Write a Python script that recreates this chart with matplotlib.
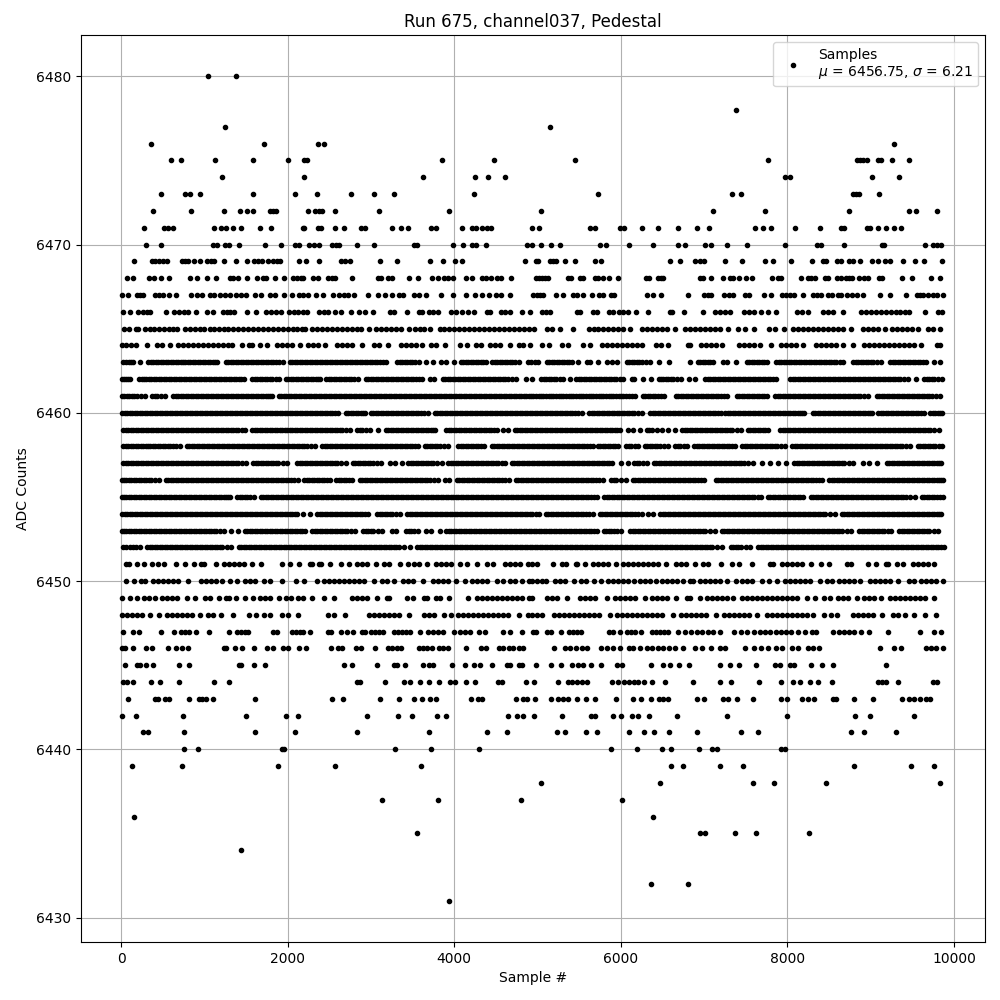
import matplotlib
matplotlib.use('Agg')
import matplotlib.pyplot as plt

# samples, one list per ADC level
s6480 = [1044, 1380]
s6478 = [7388]
s6477 = [1248, 5144]
s6476 = [360, 1716, 2360, 2436, 9284]
s6475 = [600, 720, 1128, 1584, 2004, 2196, 2232, 3852, 4476, 5444, 7772, 8840, 8876, 8912, 8960, 9092, 9128, 9260, 9464]
s6474 = [1212, 2196, 3624, 4252, 4404, 4608, 7976, 8036, 9020, 9344]
s6473 = [480, 768, 828, 948, 1584, 2088, 2352, 2760, 3036, 3276, 4236, 5720, 7340, 7448, 8792, 8828, 8864, 9104]
s6472 = [384, 840, 1236, 1428, 1512, 1584, 1788, 1824, 1864, 2244, 2328, 2376, 2412, 2568, 3096, 3936, 5036, 7112, 7736, 8744, 9464, 9548, 9800]
s6471 = [276, 512, 568, 624, 1116, 1204, 1260, 1344, 1444, 1668, 1800, 2184, 2196, 2364, 2404, 2568, 2676, 2880, 2928, 3252, 3360, 3444, 3720, 3780, 4092, 4212, 4264, 4332, 4392, 4444,
         4928, 5012, 5624, 5684, 5984, 6032, 6248, 6440, 6692, 6920, 7064, 7616, 7712, 7808, 8096, 8396, 8648, 8684, 8960, 8996, 9092, 9188, 9284, 9368]
s6470 = [300, 480, 1104, 1152, 1248, 1296, 1416, 1728, 1920, 2088, 2136, 2256, 2316, 2376, 2532, 2580, 2616, 2832, 3036, 3516, 3548, 3984, 4104, 4212, 4264, 4380, 4872,
         4928, 5036, 5156, 5264, 5752, 5816, 6092, 6380, 6692, 6776, 7016, 7088, 7280, 7520, 7976, 8360, 8408, 8684, 9140, 9164, 9656, 9752, 9800, 9848]
s6469 = [156, 372, 408, 456, 504, 556, 732, 768, 804, 876, 948, 1032, 1080, 1116, 1236, 1380, 1512, 1596, 1644, 1692, 1764, 1824, 1872, 1908, 2136, 2220, 2376, 2640, 2688, 2748, 3108, 3312, 3708, 3864, 4008, 4092, 4848,
         4976, 5000, 5144, 5180, 5216, 5324, 5444, 5692, 5756, 6596, 6716, 6896, 6956, 7004, 7256, 7460, 7736, 7832, 8048, 8300, 8432, 8468, 8600, 8648, 8744, 8792, 8876, 9020, 9092, 9176, 9236, 9392, 9536, 9644, 9860]
s6468 = [72, 144, 336, 396, 480, 572, 828, 912, 1032, 1140, 1308, 1344, 1404, 1512, 1632, 1704, 1740, 1848, 1956, 2064, 2112, 2160, 2184, 2304, 2364, 2484, 2532, 2568, 2772, 3084, 3120, 3204, 3252, 3456, 3564, 3732, 3804, 3876, 3924, 3984, 4144, 4212, 4332, 4380, 4440, 4512, 4560, 4680,
         4976, 5012, 5048, 5084, 5120, 5360, 5396, 5504, 5540, 5684, 5720, 5780, 5852, 5960, 6296, 6332, 6440, 6476, 6512, 6956, 6992, 7088, 7232, 7316, 7352, 7424, 7508, 7580, 7820, 7892, 7928, 8168, 8252, 8288, 8336, 8456, 8492, 8600, 8648, 8708, 8744, 8780, 8864, 8924, 8972, 9104, 9140, 9380, 9500, 9728, 9836]
s6467 = [16, 84, 192, 228, 264, 408, 456, 504, 576, 660, 840, 912, 972, 1068, 1116, 1188, 1248, 1308, 1380, 1440, 1504, 1608, 1684, 1788, 1848, 1956, 2052, 2136, 2184, 2244, 2344, 2424, 2544, 2616, 2676, 2724, 2796, 2964, 3084, 3164, 3252, 3336, 3384, 3516, 3576, 3660, 3840, 3984, 4144, 4252, 4332, 4416, 4500, 4560, 4664,
         4940, 4988, 5024, 5060, 5216, 5300, 5420, 5468, 5540, 5648, 5732, 5780, 5876, 5912, 6308, 6380, 6476, 6812, 7004, 7052, 7088, 7244, 7304, 7352, 7496, 7544, 7724, 7808, 7940, 7988, 8036, 8084, 8192, 8312, 8360, 8408, 8492, 8540, 8612, 8648, 8720, 8780, 8840, 8912, 9116, 9236, 9428, 9560, 9596, 9632, 9692, 9752, 9800, 9872]
s6466 = [24, 112, 204, 262, 310, 344, 536, 640, 700, 760, 804, 904, 1036, 1104, 1220, 1268, 1310, 1352, 1516, 1620, 1736, 1800, 1860, 1924, 2016, 2072, 2130, 2190, 2232, 2376, 2440, 2480, 2568, 2640, 2760, 2852, 2924, 3024, 3224, 3272, 3432, 3576, 3612, 3696, 3750, 3800, 3956, 4020, 4090, 4160, 4232, 4396, 4424, 4556, 4610, 4672, 4816, 4904,
         5052, 5100, 5148, 5472, 5508, 5660, 5716, 5852, 5910, 5972, 6030, 6088, 6180, 6320, 6592, 6616, 6760, 6992, 7132, 7190, 7256, 7316, 7484, 7540, 7596, 7688, 7768, 7868, 8112, 8180, 8248, 8432, 8490, 8548, 8668, 8884, 8944, 9004, 9060, 9122, 9180, 9240, 9300, 9356, 9412, 9460, 9652, 9812, 9852]
s6465 = [36, 92, 176, 200, 288, 344, 402, 460, 520, 580, 630, 672, 768, 826, 888, 944, 1002, 1064, 1122, 1180, 1236, 1280, 1344, 1408, 1466, 1526, 1588, 1646, 1706, 1764, 1822, 1882, 1942, 2000, 2060, 2118, 2170, 2212, 2296, 2356, 2416, 2474, 2532, 2594, 2652, 2710, 2770, 2830, 2886, 2972, 3064, 3124, 3186, 3246, 3304, 3364, 3452, 3528, 3590, 3632, 3712, 3824, 3882, 3942, 4002, 4060, 4122, 4180, 4240, 4298, 4358, 4418, 4476, 4536, 4596, 4654, 4714, 4772, 4832, 4892, 4956,
         5112, 5170, 5268, 5420, 5612, 5672, 5730, 5790, 5850, 5910, 5970, 6030, 6108, 6252, 6310, 6370, 6430, 6490, 6550, 6648, 6772, 6830, 6890, 6950, 7010, 7070, 7130, 7190, 7288, 7412, 7488, 7604, 7780, 7848, 7960, 8072, 8132, 8190, 8250, 8310, 8370, 8430, 8490, 8550, 8610, 8670, 8768, 8904, 8964, 9024, 9084, 9168, 9260, 9320, 9380, 9440, 9500, 9568, 9692, 9752, 9828]
s6464 = [14, 64, 124, 184, 312, 436, 492, 592, 688, 746, 806, 866, 924, 984, 1044, 1102, 1162, 1222, 1280, 1332, 1456, 1536, 1572, 1664, 1752, 1876, 1934, 1994, 2052, 2152, 2248, 2308, 2368, 2452, 2596, 2656, 2716, 2776, 2892, 3036, 3100, 3200, 3356, 3416, 3476, 3536, 3612, 3716, 3776, 3892, 4064, 4152, 4264, 4320, 4424, 4484, 4544, 4664, 4776, 4824, 4904,
         5052, 5140, 5292, 5368, 5540, 5628, 5772, 5832, 5892, 5952, 6012, 6072, 6132, 6192, 6248, 6420, 6480, 6568, 6804, 6828, 6960, 7020, 7080, 7140, 7216, 7420, 7480, 7540, 7600, 7668, 7800, 7924, 7984, 8044, 8104, 8188, 8340, 8400, 8460, 8520, 8580, 8668, 8788, 8924, 8984, 9044, 9104, 9164, 9224, 9284, 9344, 9404, 9464, 9524, 9608, 9792, 9828]
s6463 = [28, 90, 144, 228, 328, 388, 448, 508, 566, 626, 686, 746, 804, 864, 924, 984, 1044, 1102, 1152, 1256, 1316, 1376, 1436, 1496, 1556, 1616, 1676, 1736, 1796, 1856, 1944, 2028, 2088, 2148, 2208, 2268, 2328, 2388, 2448, 2508, 2568, 2628, 2688, 2748, 2808, 2868, 2928, 2988, 3048, 3108, 3184, 3316, 3376, 3436, 3496, 3572, 3664, 3744, 3844, 3904, 3992, 4076, 4136, 4196, 4256, 4316, 4384, 4456, 4516, 4576, 4636, 4696, 4772, 4880,
         4920, 4968, 5008, 5112, 5172, 5232, 5292, 5352, 5408, 5480, 5592, 5628, 5728, 5832, 5892, 5948, 6072, 6132, 6192, 6252, 6348, 6460, 6580, 6836, 6924, 6984, 7044, 7108, 7232, 7280, 7384, 7512, 7572, 7632, 7692, 7756, 7864, 7924, 7984, 8044, 8104, 8164, 8224, 8284, 8344, 8404, 8464, 8524, 8584, 8668, 8792, 8852, 8912, 8972, 9032, 9128, 9232, 9292, 9352, 9412, 9472, 9532, 9592, 9668, 9764, 9828,
         60, 118, 358, 418, 478, 536, 596, 656, 716, 774, 834, 894, 954, 1014, 1072, 1128, 1286, 1346, 1406, 1466, 1526, 1586, 1646, 1706, 1766, 1826, 1900, 2058, 2118, 2178, 2238, 2298, 2358, 2418, 2478, 2538, 2598, 2658, 2718, 2778, 2838, 2898, 2958, 3018, 3078, 3146, 3346, 3406, 3466, 3534, 4106, 4166, 4226, 4286, 4350, 4486, 4546, 4606, 4666, 4734, 5142, 5202, 5262, 5322, 5380, 6102, 6162, 6222, 6300, 6954, 7014, 7076, 7542, 7602, 7662, 7724, 7894, 7954, 8014, 8074, 8134, 8194, 8254, 8314, 8374, 8434, 8494, 8554, 8626, 8822, 8882, 8942, 9002, 9080, 9262, 9322, 9382, 9442, 9502, 9562, 9630]
s6462 = [14, 60, 112, 216, 276, 336, 396, 456, 516, 576, 636, 696, 756, 816, 876, 936, 996, 1056, 1116, 1176, 1236, 1296, 1356, 1416, 1472, 1576, 1636, 1696, 1756, 1816, 1892, 1976, 2036, 2096, 2156, 2216, 2276, 2336, 2392, 2464, 2524, 2584, 2644, 2704, 2764, 2840, 2936, 2996, 3056, 3116, 3176, 3236, 3296, 3356, 3416, 3476, 3536, 3612, 3708, 3760, 3864, 3924, 3984, 4044, 4104, 4164, 4224, 4284, 4344, 4404, 4464, 4524, 4584, 4644, 4744, 4864,
         4928, 5044, 5104, 5164, 5224, 5308, 5384, 5464, 5524, 5584, 5644, 5704, 5764, 5824, 5884, 5944, 6028, 6132, 6156, 6264, 6356, 6452, 6512, 6572, 6632, 6728, 6820, 6888, 7012, 7072, 7132, 7192, 7252, 7312, 7372, 7432, 7492, 7552, 7612, 7672, 7732, 7792, 7860, 8032, 8092, 8152, 8212, 8272, 8332, 8392, 8452, 8512, 8572, 8632, 8692, 8752, 8812, 8872, 8932, 8992, 9052, 9112, 9172, 9232, 9292, 9352, 9448, 9540, 9644, 9704, 9764, 9860,
         36, 86, 246, 306, 366, 426, 486, 546, 606, 666, 726, 786, 846, 906, 966, 1026, 1086, 1146, 1206, 1266, 1326, 1386, 1444, 1606, 1666, 1726, 1786, 1856, 2006, 2066, 2126, 2186, 2246, 2306, 2364, 2494, 2554, 2614, 2674, 2734, 2802, 2966, 3026, 3086, 3146, 3206, 3266, 3326, 3386, 3446, 3506, 3574, 3894, 3954, 4014, 4074, 4134, 4194, 4254, 4314, 4374, 4434, 4494, 4554, 4614, 4694, 5074, 5134, 5194, 5266, 5494, 5554, 5614, 5674, 5734, 5794, 5854, 5914, 5986, 6482, 6542, 6602, 6680, 7042, 7102, 7162, 7222, 7282, 7342, 7402, 7462, 7522, 7582, 7642, 7702, 7762, 7826, 8062, 8122, 8182, 8242, 8302, 8362, 8422, 8482, 8542, 8602, 8662, 8722, 8782, 8842, 8902, 8962, 9022, 9082, 9142, 9202, 9262, 9322, 9400, 9674, 9734, 9812]
s6461 = [14, 68, 128, 188, 284, 376, 436, 532, 628, 688, 748, 808, 868, 928, 988, 1048, 1108, 1168, 1228, 1288, 1348, 1408, 1468, 1528, 1588, 1648, 1708, 1768, 1812, 1896, 1955, 2016, 2074, 2136, 2194, 2256, 2314, 2376, 2434, 2496, 2554, 2616, 2674, 2736, 2794, 2856, 2914, 2976, 3034, 3096, 3154, 3216, 3274, 3336, 3394, 3456, 3514, 3576, 3634, 3696, 3754, 3816, 3874, 3936, 3994, 4056, 4114, 4176, 4234, 4296, 4354, 4416, 4474, 4536, 4594, 4656, 4714, 4776, 4834, 4896,
         4950, 5012, 5070, 5132, 5190, 5252, 5310, 5372, 5430, 5492, 5550, 5612, 5670, 5732, 5790, 5852, 5910, 5972, 6030, 6092, 6168, 6264, 6324, 6384, 6444, 6520, 6660, 6720, 6780, 6840, 6900, 6960, 7020, 7080, 7140, 7200, 7280, 7392, 7452, 7512, 7572, 7632, 7692, 7756, 7852, 7912, 7972, 8032, 8092, 8152, 8212, 8272, 8332, 8392, 8452, 8512, 8572, 8632, 8692, 8752, 8812, 8872, 8968, 9072, 9132, 9192, 9252, 9312, 9372, 9432, 9492, 9552, 9612, 9672, 9732, 9828,
         40, 98, 158, 236, 406, 484, 658, 718, 778, 838, 898, 958, 1018, 1078, 1138, 1198, 1258, 1318, 1378, 1438, 1498, 1558, 1618, 1678, 1738, 1790, 1926, 1985, 2045, 2105, 2165, 2225, 2285, 2345, 2405, 2465, 2525, 2585, 2645, 2705, 2765, 2825, 2885, 2945, 3005, 3065, 3125, 3185, 3245, 3305, 3365, 3425, 3485, 3545, 3605, 3665, 3725, 3785, 3845, 3905, 3965, 4025, 4085, 4145, 4205, 4265, 4325, 4385, 4445, 4505, 4565, 4625, 4685, 4745, 4805, 4865, 4925, 4981, 5041, 5101, 5161, 5221, 5281, 5341, 5401, 5461, 5521, 5581, 5641, 5701, 5761, 5821, 5881, 5941, 6001, 6061, 6130, 6294, 6354, 6414, 6482, 6690, 6750, 6810, 6870, 6930, 6990, 7050, 7110, 7170, 7240, 7422, 7482, 7542, 7602, 7662, 7724, 7882, 7942, 8002, 8062, 8122, 8182, 8242, 8302, 8362, 8422, 8482, 8542, 8602, 8662, 8722, 8782, 8842, 8920, 9102, 9162, 9222, 9282, 9342, 9402, 9462, 9522, 9582, 9642, 9702, 9780]
s6460 = [16, 76, 136, 196, 256, 316, 376, 436, 496, 556, 616, 676, 736, 796, 856, 916, 976, 1036, 1096, 1156, 1216, 1276, 1336, 1396, 1456, 1516, 1576, 1636, 1696, 1756, 1816, 1876, 1936, 1996, 2056, 2116, 2176, 2236, 2296, 2356, 2416, 2476, 2536, 2600, 2696, 2756, 2816, 2876, 2932, 3000, 3060, 3120, 3180, 3240, 3300, 3360, 3420, 3480, 3540, 3600, 3680, 3764, 3824, 3884, 3944, 4004, 4064, 4124, 4184, 4244, 4304, 4364, 4424, 4484, 4544, 4604, 4664, 4724, 4784, 4844, 4904,
         4964, 5024, 5084, 5144, 5204, 5264, 5324, 5384, 5444, 5528, 5620, 5680, 5740, 5800, 5860, 5920, 5980, 6040, 6100, 6160, 6248, 6352, 6412, 6472, 6532, 6592, 6652, 6712, 6772, 6832, 6892, 6952, 7012, 7072, 7132, 7200, 7252, 7312, 7372, 7432, 7492, 7552, 7612, 7672, 7732, 7792, 7852, 7912, 7972, 8032, 8092, 8152, 8200, 8304, 8364, 8424, 8484, 8544, 8604, 8664, 8724, 8784, 8844, 8904, 8964, 9010, 9090, 9150, 9210, 9270, 9330, 9390, 9450, 9510, 9570, 9636, 9712, 9772, 9860,
         46, 106, 166, 226, 286, 346, 406, 466, 526, 586, 646, 706, 766, 826, 886, 946, 1006, 1066, 1126, 1186, 1246, 1306, 1366, 1426, 1486, 1546, 1606, 1666, 1726, 1786, 1846, 1906, 1966, 2026, 2086, 2146, 2206, 2266, 2326, 2386, 2446, 2506, 2568, 2726, 2786, 2846, 2904, 3030, 3090, 3150, 3210, 3270, 3330, 3390, 3450, 3510, 3570, 3640, 3794, 3854, 3914, 3974, 4034, 4094, 4154, 4214, 4274, 4334, 4394, 4454, 4514, 4574, 4634, 4694, 4754, 4814, 4874, 4934, 4994, 5054, 5114, 5174, 5234, 5294, 5354, 5414, 5486, 5650, 5710, 5770, 5830, 5890, 5950, 6010, 6070, 6130, 6204, 6382, 6442, 6502, 6562, 6622, 6682, 6742, 6802, 6862, 6922, 6982, 7042, 7102, 7166, 7282, 7342, 7402, 7462, 7522, 7582, 7642, 7702, 7762, 7822, 7882, 7942, 8002, 8062, 8122, 8176, 8334, 8394, 8454, 8514, 8574, 8634, 8694, 8754, 8814, 8874, 8934, 8988, 9120, 9180, 9240, 9300, 9360, 9420, 9480, 9540, 9604, 9742, 9802, 9832]
s6459 = [28, 88, 148, 208, 268, 328, 388, 448, 508, 568, 628, 688, 748, 808, 868, 928, 988, 1048, 1108, 1168, 1228, 1288, 1348, 1408, 1492, 1576, 1636, 1696, 1756, 1816, 1876, 1936, 1996, 2056, 2116, 2176, 2236, 2296, 2356, 2416, 2476, 2536, 2596, 2656, 2752, 2836, 2896, 2992, 3084, 3176, 3236, 3296, 3356, 3416, 3476, 3536, 3596, 3656, 3716, 3772, 3904, 3964, 4024, 4084, 4144, 4204, 4264, 4324, 4384, 4444, 4512, 4588, 4640, 4724, 4784, 4844, 4904,
         4964, 5024, 5084, 5144, 5204, 5264, 5324, 5384, 5444, 5504, 5564, 5624, 5684, 5744, 5804, 5864, 5924, 5988, 6084, 6144, 6228, 6312, 6372, 6428, 6500, 6572, 6648, 6740, 6800, 6860, 6920, 6980, 7040, 7100, 7160, 7220, 7280, 7340, 7448, 7524, 7584, 7644, 7704, 7768, 7912, 7972, 8032, 8092, 8152, 8212, 8272, 8332, 8392, 8452, 8512, 8572, 8632, 8692, 8752, 8812, 8872, 8932, 8992, 9052, 9112, 9172, 9232, 9292, 9352, 9412, 9472, 9532, 9592, 9652, 9712, 9816,
         58, 118, 178, 238, 298, 358, 418, 478, 538, 598, 658, 718, 778, 838, 898, 958, 1018, 1078, 1138, 1198, 1258, 1318, 1378, 1450, 1606, 1666, 1726, 1786, 1846, 1906, 1966, 2026, 2086, 2146, 2206, 2266, 2326, 2386, 2446, 2506, 2566, 2626, 2704, 2866, 2944, 3206, 3266, 3326, 3386, 3446, 3506, 3566, 3626, 3686, 3744, 3934, 3994, 4054, 4114, 4174, 4234, 4294, 4354, 4414, 4478, 4754, 4814, 4874, 4934, 4994, 5054, 5114, 5174, 5234, 5294, 5354, 5414, 5474, 5534, 5594, 5654, 5714, 5774, 5834, 5894, 5956, 6342, 6770, 6830, 6890, 6950, 7010, 7070, 7130, 7190, 7250, 7310, 7394, 7554, 7614, 7674, 7736, 7942, 8002, 8062, 8122, 8182, 8242, 8302, 8362, 8422, 8482, 8542, 8602, 8662, 8722, 8782, 8842, 8902, 8962, 9022, 9082, 9142, 9202, 9262, 9322, 9382, 9442, 9502, 9562, 9622, 9682, 9764]
s6458 = [24, 84, 144, 204, 264, 324, 384, 444, 504, 564, 624, 704, 788, 848, 908, 968, 1028, 1088, 1148, 1208, 1268, 1328, 1388, 1448, 1508, 1568, 1628, 1688, 1748, 1808, 1868, 1928, 1988, 2048, 2108, 2168, 2228, 2332, 2416, 2476, 2536, 2596, 2656, 2716, 2776, 2836, 2896, 2956, 3016, 3076, 3136, 3196, 3256, 3316, 3376, 3436, 3496, 3560, 3644, 3704, 3764, 3824, 3920, 4048, 4108, 4168, 4228, 4288, 4360, 4448, 4508, 4568, 4628, 4688, 4748, 4808, 4868,
         4928, 4988, 5048, 5108, 5168, 5228, 5288, 5348, 5408, 5468, 5528, 5588, 5660, 5720, 5780, 5840, 5900, 5968, 6064, 6124, 6208, 6284, 6344, 6404, 6464, 6568, 6652, 6712, 6796, 6880, 6940, 7000, 7060, 7120, 7180, 7240, 7300, 7376, 7460, 7520, 7580, 7640, 7700, 7760, 7820, 7880, 7968, 8060, 8120, 8180, 8240, 8300, 8360, 8420, 8480, 8540, 8600, 8660, 8720, 8780, 8840, 8900, 8960, 9020, 9080, 9140, 9200, 9260, 9320, 9380, 9476, 9564, 9624, 9684, 9744, 9860,
         54, 114, 174, 234, 294, 354, 414, 474, 534, 594, 664, 818, 878, 938, 998, 1058, 1118, 1178, 1238, 1298, 1358, 1418, 1478, 1538, 1598, 1658, 1718, 1778, 1838, 1898, 1958, 2018, 2078, 2138, 2198, 2280, 2446, 2506, 2566, 2626, 2686, 2746, 2806, 2866, 2926, 2986, 3046, 3106, 3166, 3226, 3286, 3346, 3406, 3466, 3528, 3674, 3734, 3794, 3872, 4078, 4138, 4198, 4258, 4324, 4478, 4538, 4598, 4658, 4718, 4778, 4838, 4898, 4958, 5018, 5078, 5138, 5198, 5258, 5318, 5378, 5438, 5498, 5558, 5624, 5750, 5810, 5870, 5934, 6094, 6166, 6314, 6374, 6434, 6516, 6682, 6754, 6910, 6970, 7030, 7090, 7150, 7210, 7270, 7338, 7490, 7550, 7610, 7670, 7730, 7790, 7850, 7924, 8090, 8150, 8210, 8270, 8330, 8390, 8450, 8510, 8570, 8630, 8690, 8750, 8810, 8870, 8930, 8990, 9050, 9110, 9170, 9230, 9290, 9350, 9428, 9594, 9654, 9714, 9774, 9820]
s6457 = [28, 88, 148, 208, 268, 328, 388, 448, 508, 568, 628, 688, 748, 808, 868, 928, 988, 1048, 1108, 1168, 1228, 1288, 1348, 1408, 1500, 1588, 1648, 1708, 1768, 1828, 1888, 1992, 2116, 2176, 2236, 2296, 2356, 2416, 2476, 2536, 2596, 2700, 2784, 2844, 2904, 2964, 3024, 3124, 3224, 3284, 3372, 3448, 3508, 3568, 3628, 3688, 3748, 3848, 3928, 3988, 4048, 4108, 4168, 4228, 4288, 4348, 4408, 4468, 4528, 4612, 4688, 4748, 4808, 4868,
         4928, 4988, 5048, 5108, 5168, 5228, 5288, 5348, 5408, 5468, 5528, 5588, 5648, 5708, 5768, 5828, 5888, 6000, 6080, 6160, 6220, 6308, 6396, 6456, 6516, 6576, 6636, 6696, 6756, 6816, 6876, 6936, 6996, 7056, 7116, 7176, 7236, 7296, 7356, 7416, 7476, 7588, 7692, 7796, 7884, 7988, 8084, 8144, 8204, 8264, 8324, 8384, 8444, 8504, 8564, 8624, 8684, 8788, 8904, 8976, 9072, 9192, 9252, 9312, 9372, 9432, 9492, 9552, 9612, 9672, 9732, 9792, 9848,
         58, 118, 178, 238, 298, 358, 418, 478, 538, 598, 658, 718, 778, 838, 898, 958, 1018, 1078, 1138, 1198, 1258, 1318, 1378, 1454, 1618, 1678, 1738, 1798, 1858, 1940, 2146, 2206, 2266, 2326, 2386, 2446, 2506, 2566, 2646, 2814, 2874, 2934, 2994, 3076, 3478, 3538, 3598, 3658, 3718, 3796, 3958, 4018, 4078, 4138, 4198, 4258, 4318, 4378, 4438, 4498, 4570, 4718, 4778, 4838, 4898, 4958, 5018, 5078, 5138, 5198, 5258, 5318, 5378, 5438, 5498, 5558, 5618, 5678, 5738, 5798, 5858, 6190, 6264, 6426, 6486, 6546, 6606, 6666, 6726, 6786, 6846, 6906, 6966, 7026, 7086, 7146, 7206, 7266, 7326, 7386, 7446, 7530, 8114, 8174, 8234, 8294, 8354, 8414, 8474, 8534, 8594, 8654, 8736, 9222, 9282, 9342, 9402, 9462, 9522, 9582, 9642, 9702, 9762, 9820]
s6456 = [14, 64, 124, 184, 244, 304, 364, 452, 536, 596, 656, 716, 776, 836, 896, 956, 1016, 1076, 1136, 1196, 1256, 1316, 1376, 1436, 1496, 1556, 1616, 1676, 1736, 1796, 1856, 1916, 1976, 2036, 2124, 2200, 2260, 2320, 2380, 2440, 2504, 2584, 2644, 2704, 2768, 2864, 2924, 2984, 3044, 3104, 3164, 3224, 3284, 3344, 3404, 3464, 3524, 3584, 3644, 3704, 3808, 3888, 3940, 4028, 4088, 4148, 4208, 4268, 4328, 4388, 4448, 4508, 4568, 4660, 4736, 4796, 4856,
         4916, 4976, 5036, 5096, 5156, 5216, 5276, 5336, 5396, 5456, 5516, 5576, 5636, 5696, 5788, 5884, 5944, 6056, 6144, 6204, 6264, 6324, 6384, 6444, 6504, 6564, 6624, 6684, 6744, 6804, 6864, 6924, 7000, 7140, 7200, 7260, 7320, 7380, 7440, 7500, 7560, 7620, 7680, 7740, 7800, 7860, 7920, 7980, 8040, 8100, 8160, 8220, 8280, 8340, 8420, 8500, 8560, 8620, 8680, 8740, 8800, 8860, 8920, 8980, 9040, 9100, 9160, 9220, 9280, 9340, 9400, 9460, 9520, 9580, 9640, 9700, 9760, 9820, 9868,
         34, 94, 154, 214, 274, 334, 408, 566, 626, 686, 746, 806, 866, 926, 986, 1046, 1106, 1166, 1226, 1286, 1346, 1406, 1466, 1526, 1586, 1646, 1706, 1766, 1826, 1886, 1946, 2006, 2080, 2230, 2290, 2350, 2410, 2472, 2614, 2674, 2736, 2894, 2954, 3014, 3074, 3134, 3194, 3254, 3314, 3374, 3434, 3494, 3554, 3614, 3674, 3756, 4058, 4118, 4178, 4238, 4298, 4358, 4418, 4478, 4538, 4614, 4766, 4826, 4886, 4946, 5006, 5066, 5126, 5186, 5246, 5306, 5366, 5426, 5486, 5546, 5606, 5666, 5742, 5914, 6000, 6174, 6234, 6294, 6354, 6414, 6474, 6534, 6594, 6654, 6714, 6774, 6834, 6894, 6962, 7170, 7230, 7290, 7350, 7410, 7470, 7530, 7590, 7650, 7710, 7770, 7830, 7890, 7950, 8010, 8070, 8130, 8190, 8250, 8310, 8380, 8530, 8590, 8650, 8710, 8770, 8830, 8890, 8950, 9010, 9070, 9130, 9190, 9250, 9310, 9370, 9430, 9490, 9550, 9610, 9670, 9730, 9790, 9846]
s6455 = [13, 64, 124, 184, 244, 304, 364, 424, 484, 544, 604, 664, 724, 784, 844, 904, 964, 1024, 1084, 1144, 1204, 1264, 1312, 1396, 1456, 1516, 1592, 1676, 1736, 1796, 1856, 1916, 1976, 2036, 2096, 2156, 2216, 2276, 2336, 2396, 2456, 2516, 2576, 2636, 2696, 2756, 2816, 2876, 2936, 2996, 3056, 3116, 3176, 3236, 3296, 3356, 3416, 3476, 3536, 3596, 3656, 3716, 3776, 3836, 3896, 3956, 4016, 4076, 4136, 4196, 4256, 4316, 4376, 4436, 4496, 4556, 4616, 4676, 4736, 4796, 4856, 4916,
         4976, 5036, 5096, 5156, 5216, 5276, 5336, 5396, 5456, 5516, 5576, 5636, 5716, 5800, 5860, 5920, 5980, 6040, 6100, 6160, 6220, 6280, 6340, 6400, 6460, 6520, 6580, 6640, 6700, 6760, 6820, 6880, 6940, 7000, 7060, 7120, 7180, 7240, 7300, 7360, 7420, 7480, 7540, 7600, 7688, 7764, 7824, 7884, 7944, 8004, 8064, 8124, 8188, 8280, 8340, 8400, 8460, 8520, 8580, 8640, 8700, 8760, 8820, 8880, 8940, 9000, 9060, 9120, 9180, 9240, 9300, 9360, 9420, 9528, 9612, 9672, 9732, 9792, 9868,
         34, 94, 154, 214, 274, 334, 394, 454, 514, 574, 634, 694, 754, 814, 874, 934, 994, 1054, 1114, 1174, 1234, 1288, 1426, 1486, 1554, 1706, 1766, 1826, 1886, 1946, 2006, 2066, 2126, 2186, 2246, 2306, 2366, 2426, 2486, 2546, 2606, 2666, 2726, 2786, 2846, 2906, 2966, 3026, 3086, 3146, 3206, 3266, 3326, 3386, 3446, 3506, 3566, 3626, 3686, 3746, 3806, 3866, 3926, 3986, 4046, 4106, 4166, 4226, 4286, 4346, 4406, 4466, 4526, 4586, 4646, 4706, 4766, 4826, 4886, 4946, 5006, 5066, 5126, 5186, 5246, 5306, 5366, 5426, 5486, 5546, 5606, 5676, 5830, 5890, 5950, 6010, 6070, 6130, 6190, 6250, 6310, 6370, 6430, 6490, 6550, 6610, 6670, 6730, 6790, 6850, 6910, 6970, 7030, 7090, 7150, 7210, 7270, 7330, 7390, 7450, 7510, 7570, 7644, 7794, 7854, 7914, 7974, 8034, 8094, 8156, 8310, 8370, 8430, 8490, 8550, 8610, 8670, 8730, 8790, 8850, 8910, 8970, 9030, 9090, 9150, 9210, 9270, 9330, 9390, 9474, 9642, 9702, 9762, 9830]
s6454 = [16, 76, 136, 196, 256, 316, 376, 436, 496, 556, 616, 676, 736, 796, 856, 916, 976, 1036, 1096, 1156, 1216, 1276, 1336, 1396, 1456, 1516, 1576, 1636, 1696, 1756, 1816, 1876, 1936, 1996, 2056, 2112, 2188, 2272, 2356, 2416, 2476, 2536, 2596, 2656, 2716, 2776, 2836, 2896, 2960, 3076, 3136, 3196, 3256, 3352, 3436, 3496, 3556, 3616, 3676, 3736, 3796, 3856, 3916, 3976, 4036, 4096, 4156, 4216, 4276, 4336, 4396, 4456, 4516, 4576, 4636, 4696, 4756, 4816, 4876, 4936,
         5020, 5100, 5160, 5220, 5280, 5340, 5400, 5460, 5520, 5580, 5660, 5748, 5808, 5868, 5928, 5988, 6048, 6108, 6168, 6248, 6324, 6388, 6472, 6532, 6592, 6652, 6712, 6772, 6832, 6892, 6952, 7012, 7072, 7132, 7192, 7252, 7312, 7372, 7432, 7492, 7552, 7612, 7672, 7732, 7792, 7852, 7912, 7972, 8032, 8092, 8152, 8212, 8272, 8332, 8392, 8452, 8568, 8652, 8712, 8772, 8832, 8892, 8952, 9012, 9072, 9132, 9192, 9252, 9312, 9372, 9432, 9492, 9552, 9612, 9672, 9732, 9792, 9848,
         46, 106, 166, 226, 286, 346, 406, 466, 526, 586, 646, 706, 766, 826, 886, 946, 1006, 1066, 1126, 1186, 1246, 1306, 1366, 1426, 1486, 1546, 1606, 1666, 1726, 1786, 1846, 1906, 1966, 2026, 2084, 2386, 2446, 2506, 2566, 2626, 2686, 2746, 2806, 2866, 2928, 3106, 3166, 3226, 3304, 3466, 3526, 3586, 3646, 3706, 3766, 3826, 3886, 3946, 4006, 4066, 4126, 4186, 4246, 4306, 4366, 4426, 4486, 4546, 4606, 4666, 4726, 4786, 4846, 4906, 4978, 5130, 5190, 5250, 5310, 5370, 5430, 5490, 5550, 5620, 5778, 5838, 5898, 5958, 6018, 6078, 6138, 6208, 6502, 6562, 6622, 6682, 6742, 6802, 6862, 6922, 6982, 7042, 7102, 7162, 7222, 7282, 7342, 7402, 7462, 7522, 7582, 7642, 7702, 7762, 7822, 7882, 7942, 8002, 8062, 8122, 8182, 8242, 8302, 8362, 8422, 8510, 8682, 8742, 8802, 8862, 8922, 8982, 9042, 9102, 9162, 9222, 9282, 9342, 9402, 9462, 9522, 9582, 9642, 9702, 9762, 9820]
s6453 = [14, 64, 124, 184, 244, 304, 364, 424, 484, 544, 604, 664, 724, 784, 844, 904, 964, 1024, 1084, 1144, 1232, 1324, 1400, 1484, 1544, 1604, 1664, 1724, 1784, 1844, 1904, 1964, 2024, 2084, 2144, 2212, 2296, 2356, 2416, 2476, 2536, 2596, 2656, 2716, 2812, 2908, 2968, 3028, 3132, 3248, 3300, 3424, 3484, 3560, 3656, 3716, 3824, 3904, 3964, 4024, 4084, 4144, 4204, 4264, 4324, 4384, 4444, 4504, 4564, 4624, 4684, 4744, 4804, 4864, 4924,
         4984, 5044, 5104, 5164, 5224, 5284, 5344, 5404, 5464, 5524, 5584, 5644, 5708, 5792, 5852, 5912, 5996, 6112, 6172, 6232, 6292, 6352, 6412, 6472, 6532, 6592, 6652, 6712, 6772, 6832, 6892, 6952, 7012, 7128, 7212, 7272, 7332, 7392, 7452, 7512, 7572, 7632, 7692, 7752, 7812, 7872, 7932, 7992, 8052, 8112, 8172, 8232, 8292, 8352, 8412, 8472, 8532, 8592, 8652, 8768, 8860, 8920, 8980, 9040, 9100, 9160, 9248, 9340, 9400, 9460, 9520, 9580, 9640, 9700, 9808,
         36, 94, 154, 214, 274, 334, 394, 454, 514, 574, 634, 694, 754, 814, 874, 934, 994, 1054, 1114, 1190, 1514, 1574, 1634, 1694, 1754, 1814, 1874, 1934, 1994, 2054, 2114, 2178, 2326, 2386, 2446, 2506, 2566, 2626, 2686, 2766, 2938, 2998, 3080, 3454, 3522, 3934, 3994, 4054, 4114, 4174, 4234, 4294, 4354, 4414, 4474, 4534, 4594, 4654, 4714, 4774, 4834, 4894, 4954, 5014, 5074, 5134, 5194, 5254, 5314, 5374, 5434, 5494, 5554, 5614, 5676, 5822, 5882, 5954, 6142, 6202, 6262, 6322, 6382, 6442, 6502, 6562, 6622, 6682, 6742, 6802, 6862, 6922, 6982, 7070, 7242, 7302, 7362, 7422, 7482, 7542, 7602, 7662, 7722, 7782, 7842, 7902, 7962, 8022, 8082, 8142, 8202, 8262, 8322, 8382, 8442, 8502, 8562, 8622, 8710, 8890, 8950, 9010, 9070, 9130, 9204, 9370, 9430, 9490, 9550, 9610, 9670, 9754]
s6452 = [28, 64, 144, 224, 316, 376, 436, 496, 556, 616, 676, 736, 796, 856, 916, 976, 1036, 1096, 1156, 1216, 1320, 1416, 1476, 1536, 1596, 1656, 1716, 1776, 1836, 1896, 1956, 2016, 2076, 2136, 2196, 2256, 2316, 2376, 2436, 2496, 2556, 2616, 2676, 2736, 2796, 2856, 2916, 2976, 3036, 3096, 3156, 3216, 3276, 3336, 3472, 3556, 3616, 3676, 3736, 3796, 3856, 3916, 3976, 4036, 4096, 4156, 4216, 4276, 4336, 4396, 4456, 4516, 4576, 4636, 4696, 4756, 4816, 4876, 4936,
         4996, 5056, 5116, 5176, 5236, 5296, 5356, 5416, 5476, 5536, 5596, 5656, 5716, 5776, 5836, 5896, 5956, 6016, 6076, 6136, 6196, 6256, 6316, 6376, 6436, 6496, 6556, 6616, 6676, 6736, 6796, 6856, 6916, 6976, 7036, 7096, 7220, 7320, 7380, 7440, 7556, 7652, 7712, 7772, 7832, 7892, 7952, 8012, 8072, 8132, 8192, 8252, 8312, 8372, 8432, 8492, 8552, 8612, 8672, 8732, 8792, 8852, 8912, 8972, 9032, 9092, 9152, 9212, 9272, 9332, 9392, 9452, 9512, 9572, 9632, 9692, 9752, 9812, 9878,
         104, 184, 346, 406, 466, 526, 586, 646, 706, 766, 826, 886, 946, 1006, 1066, 1126, 1186, 1268, 1446, 1506, 1566, 1626, 1686, 1746, 1806, 1866, 1926, 1986, 2046, 2106, 2166, 2226, 2286, 2346, 2406, 2466, 2526, 2586, 2646, 2706, 2766, 2826, 2886, 2946, 3006, 3066, 3126, 3186, 3246, 3306, 3400, 3586, 3646, 3706, 3766, 3826, 3886, 3946, 4006, 4066, 4126, 4186, 4246, 4306, 4366, 4426, 4486, 4546, 4606, 4666, 4726, 4786, 4846, 4906, 4966, 5026, 5086, 5146, 5206, 5266, 5326, 5386, 5446, 5506, 5566, 5626, 5686, 5746, 5806, 5866, 5926, 5986, 6046, 6106, 6166, 6226, 6286, 6346, 6406, 6466, 6526, 6586, 6646, 6706, 6766, 6826, 6886, 6946, 7006, 7066, 7150, 7350, 7410, 7500, 7682, 7742, 7802, 7862, 7922, 7982, 8042, 8102, 8162, 8222, 8282, 8342, 8402, 8462, 8522, 8582, 8642, 8702, 8762, 8822, 8882, 8942, 9002, 9062, 9122, 9182, 9242, 9302, 9362, 9422, 9482, 9542, 9602, 9662, 9722, 9782, 9846]
s6451 = [64, 92, 196, 280, 372, 444, 512, 664, 772, 872, 956, 992, 1140, 1236, 1296, 1356, 1416, 1476, 1572, 1676, 1936, 2028, 2132, 2264, 2292, 2376, 2400, 2508, 2636, 2732, 2836, 2896, 2956, 3064, 3160, 3220, 3344, 3440, 3516, 3576, 3672, 3776, 3836, 3896, 3956, 4072, 4156, 4272, 4396, 4464, 4608, 4668, 4728, 4788, 4890,
         4932, 4988, 5180, 5292, 5340, 5464, 5476, 5564, 5664, 5724, 5784, 5844, 5940, 6024, 6084, 6144, 6204, 6264, 6324, 6384, 6444, 6548, 6660, 6720, 6788, 6892, 6992, 7048, 7208, 7332, 7416, 7580, 7792, 7828, 7940, 8000, 8060, 8120, 8180, 8280, 8400, 8496, 8712, 8768, 8964, 9068, 9180, 9208, 9312, 9388, 9504, 9564, 9624, 9684, 9756]
s6450 = [64, 152, 236, 284, 388, 448, 508, 568, 628, 688, 800, 956, 1016, 1076, 1136, 1212, 1308, 1392, 1488, 1548, 1608, 1712, 1792, 1932, 2096, 2192, 2352, 2436, 2496, 2556, 2616, 2676, 2736, 2796, 2856, 2916, 3032, 3136, 3196, 3272, 3388, 3448, 3508, 3624, 3748, 3808, 3868, 3928, 4024, 4128, 4216, 4276, 4336, 4396, 4512, 4588, 4664, 4732, 4812, 4896,
         4932, 4992, 5052, 5100, 5204, 5264, 5324, 5436, 5520, 5580, 5672, 5756, 5844, 5904, 5964, 6024, 6084, 6156, 6232, 6292, 6352, 6420, 6500, 6560, 6620, 6680, 6748, 6836, 6868, 6952, 7012, 7072, 7132, 7188, 7272, 7380, 7460, 7520, 7580, 7700, 7780, 7880, 7972, 8032, 8092, 8152, 8212, 8272, 8388, 8472, 8540, 8620, 8680, 8740, 8800, 8876, 8992, 9052, 9112, 9172, 9232, 9328, 9460, 9516, 9604, 9664, 9724, 9784, 9868]
s6449 = [16, 112, 196, 276, 336, 412, 496, 556, 616, 676, 792, 892, 1004, 1064, 1172, 1256, 1292, 1384, 1488, 1584, 1672, 1732, 1792, 1892, 1984, 2040, 2128, 2188, 2292, 2432, 2560, 2768, 2828, 2888, 2948, 3072, 3188, 3212, 3436, 3504, 3636, 3672, 3776, 3832, 3932, 4164, 4276, 4336, 4396, 4456, 4516, 4576, 4636, 4696, 4756, 4816, 4900,
         4932, 5112, 5172, 5232, 5356, 5512, 5572, 5632, 5692, 5828, 5932, 5992, 6052, 6112, 6172, 6288, 6372, 6432, 6492, 6552, 6668, 6792, 6836, 6948, 7032, 7092, 7152, 7212, 7272, 7348, 7460, 7520, 7580, 7640, 7700, 7760, 7820, 7880, 7940, 8000, 8060, 8120, 8236, 8332, 8436, 8508, 8604, 8664, 8728, 8840, 8924, 8984, 9044, 9128, 9232, 9292, 9352, 9412, 9472, 9532, 9592, 9652, 9756]
s6448 = [16, 76, 136, 196, 256, 352, 452, 556, 616, 676, 736, 796, 856, 952, 1048, 1108, 1200, 1344, 1536, 1616, 1716, 1792, 1936, 2000, 2124, 2488, 2560, 2692, 2976, 3036, 3096, 3156, 3216, 3276, 3336, 3460, 3636, 3696, 3756, 3872, 3964, 4048, 4108, 4168, 4228, 4288, 4348, 4408, 4468, 4528, 4588, 4648, 4772, 4884,
         4932, 4992, 5048, 5192, 5252, 5312, 5372, 5432, 5492, 5552, 5612, 5672, 5732, 5868, 5952, 6012, 6072, 6132, 6192, 6252, 6312, 6372, 6432, 6492, 6628, 6724, 6784, 6844, 6904, 6964, 7024, 7148, 7244, 7304, 7364, 7424, 7484, 7544, 7636, 7760, 7820, 7880, 7940, 8000, 8060, 8120, 8180, 8240, 8308, 8436, 8520, 8600, 8792, 8852, 8912, 8972, 9032, 9132, 9264, 9324, 9408, 9524, 9648, 9788]
s6447 = [24, 144, 216, 480, 636, 720, 768, 816, 904, 1056, 1296, 1392, 1440, 1488, 1524, 1824, 1872, 2052, 2100, 2148, 2184, 2268, 2484, 2520, 2640, 2712, 2784, 2892, 2928, 3000, 3048, 3096, 3144, 3276, 3324, 3372, 3420, 3468, 3588, 3684, 3744, 3804, 3864, 3996, 4068, 4128, 4188, 4296, 4368, 4584, 4668, 4812,
         4940, 4976, 5108, 5156, 5276, 5372, 5420, 5468, 5516, 5852, 5900, 5984, 6068, 6116, 6164, 6236, 6368, 6416, 6464, 6524, 6572, 6692, 6776, 6848, 6920, 6980, 7052, 7112, 7196, 7364, 7448, 7520, 7604, 7676, 7736, 7796, 7868, 7928, 7988, 8048, 8132, 8216, 8300, 8348, 8552, 8624, 8684, 8744, 8804, 8888, 8976, 9212, 9596, 9764, 9848]
s6446 = [14, 48, 144, 300, 372, 564, 660, 732, 804, 1236, 1260, 1368, 1452, 1596, 1752, 1824, 1944, 2004, 2136, 2220, 2520, 2604, 2652, 2820, 2880, 3048, 3204, 3252, 3312, 3360, 3576, 3624, 3672, 3732, 3816, 3864, 3924, 4144, 4320, 4380, 4536, 4584, 4656, 4704, 4776, 4824,
         5196, 5324, 5384, 5456, 5528, 5588, 5756, 5828, 5900, 5984, 6092, 6140, 6224, 6308, 6368, 6440, 6512, 6584, 6656, 6752, 6896, 6980, 7088, 7196, 7248, 7496, 7604, 7688, 7772, 7868, 7940, 8060, 8132, 8252, 8312, 8384, 9116, 9284, 9368, 9668, 9728, 9788, 9872]
s6445 = [48, 192, 224, 300, 384, 696, 816, 1416, 1440, 1596, 1728, 2676, 2772, 3072, 3276, 3312, 3408, 3624, 3696, 3744, 3972, 4128, 4236, 4308, 4452, 4632, 4668, 4776, 4812,
         4976, 5156, 5276, 5408, 5480, 5540, 5636, 5756, 5948, 6008, 6356, 6512, 6596, 6704, 6824, 7196, 7316, 7424, 7628, 7856, 7916, 8036, 8084, 8288, 8420, 8552, 9188]
s6444 = [24, 72, 144, 360, 468, 696, 1116, 1296, 2832, 2868, 3168, 3396, 3468, 3588, 3696, 3816, 3948, 4008, 4140, 4248, 4524, 4572, 4860,
         4952, 5240, 5360, 5408, 5468, 5528, 5588, 5888, 5960, 6032, 6092, 6152, 6200, 6272, 6368, 6536, 6872, 7196, 7328, 7664, 7928, 8072, 8156, 8276, 8372, 8540, 9092, 9140, 9188, 9332, 9752, 9800]
s6443 = [84, 408, 444, 528, 576, 816, 936, 972, 1020, 1104, 1608, 2532, 2664, 3108, 3336, 3516, 3612, 3708, 3780, 4200, 4284, 4332, 4740, 4824, 4872,
         4964, 5156, 5240, 5300, 5360, 5468, 5576, 5684, 5936, 6140, 6236, 6356, 6452, 6512, 6572, 6920, 7004, 7232, 7292, 7400, 7592, 7928, 8000, 8180, 8252, 8324, 8552, 8588, 8804, 9032, 9380, 9464, 9524, 9596, 9668, 9716]
s6442 = [14, 180, 744, 1500, 1980, 2124, 2952, 3324, 3492, 3792, 3900, 4644, 4752, 4824, 4952, 5288, 5636, 5684, 5900, 5996, 6128, 6200, 6332, 6680, 7280, 8000, 8816, 8996, 9524]
s6441 = [264, 324, 756, 1608, 2088, 2832, 3696, 4392, 4632, 5228, 5324, 5576, 5708, 6092, 6272, 6392, 6584, 6920, 7448, 7652, 8768, 8924, 9308]
s6440 = [756, 924, 1932, 1956, 3288, 3720, 4296, 5876, 6188, 6500, 6608, 6944, 7100, 7160, 7928, 7976]
s6439 = [132, 732, 1884, 2568, 3600, 6608, 6752, 7196, 7472, 8804, 9488, 9764]
s6438 = [5036, 6464, 7592, 7844, 8468, 9836]
s6437 = [3132, 3804, 4800, 6008]
s6436 = [156, 6380]
s6435 = [3552, 6956, 7016, 7376, 7628, 8264]
s6434 = [1440]
s6432 = [6356, 6812]
s6431 = [3936]

levels = [6480, 6478, 6477, 6476, 6475, 6474, 6473, 6472, 6471, 6470, 6469, 6468, 6467, 6466, 6465, 6464,
          6463, 6462, 6461, 6460, 6459, 6458, 6457, 6456, 6455, 6454, 6453, 6452, 6451, 6450, 6449, 6448,
          6447, 6446, 6445, 6444, 6443, 6442, 6441, 6440, 6439, 6438, 6437, 6436, 6435, 6434, 6432, 6431]
level_samples = [s6480, s6478, s6477, s6476, s6475, s6474, s6473, s6472, s6471, s6470, s6469, s6468, s6467, s6466, s6465, s6464,
                 s6463, s6462, s6461, s6460, s6459, s6458, s6457, s6456, s6455, s6454, s6453, s6452, s6451, s6450, s6449, s6448,
                 s6447, s6446, s6445, s6444, s6443, s6442, s6441, s6440, s6439, s6438, s6437, s6436, s6435, s6434, s6432, s6431]

x = []
y = []
for lev, samples in zip(levels, level_samples):
    x += samples
    y += [lev] * len(samples)

fig, ax = plt.subplots(figsize=(10, 10))
ax.plot(x, y, 'k.', label='Samples\n$\\mu$ = 6456.75, $\\sigma$ = 6.21')
ax.set_title('Run 675, channel037, Pedestal')
ax.set_xlabel('Sample #')
ax.set_ylabel('ADC Counts')
ax.grid(True)
ax.legend(loc='upper right')
fig.subplots_adjust(left=0.081, right=0.985, top=0.965, bottom=0.058)
plt.savefig('out.png', dpi=100)
